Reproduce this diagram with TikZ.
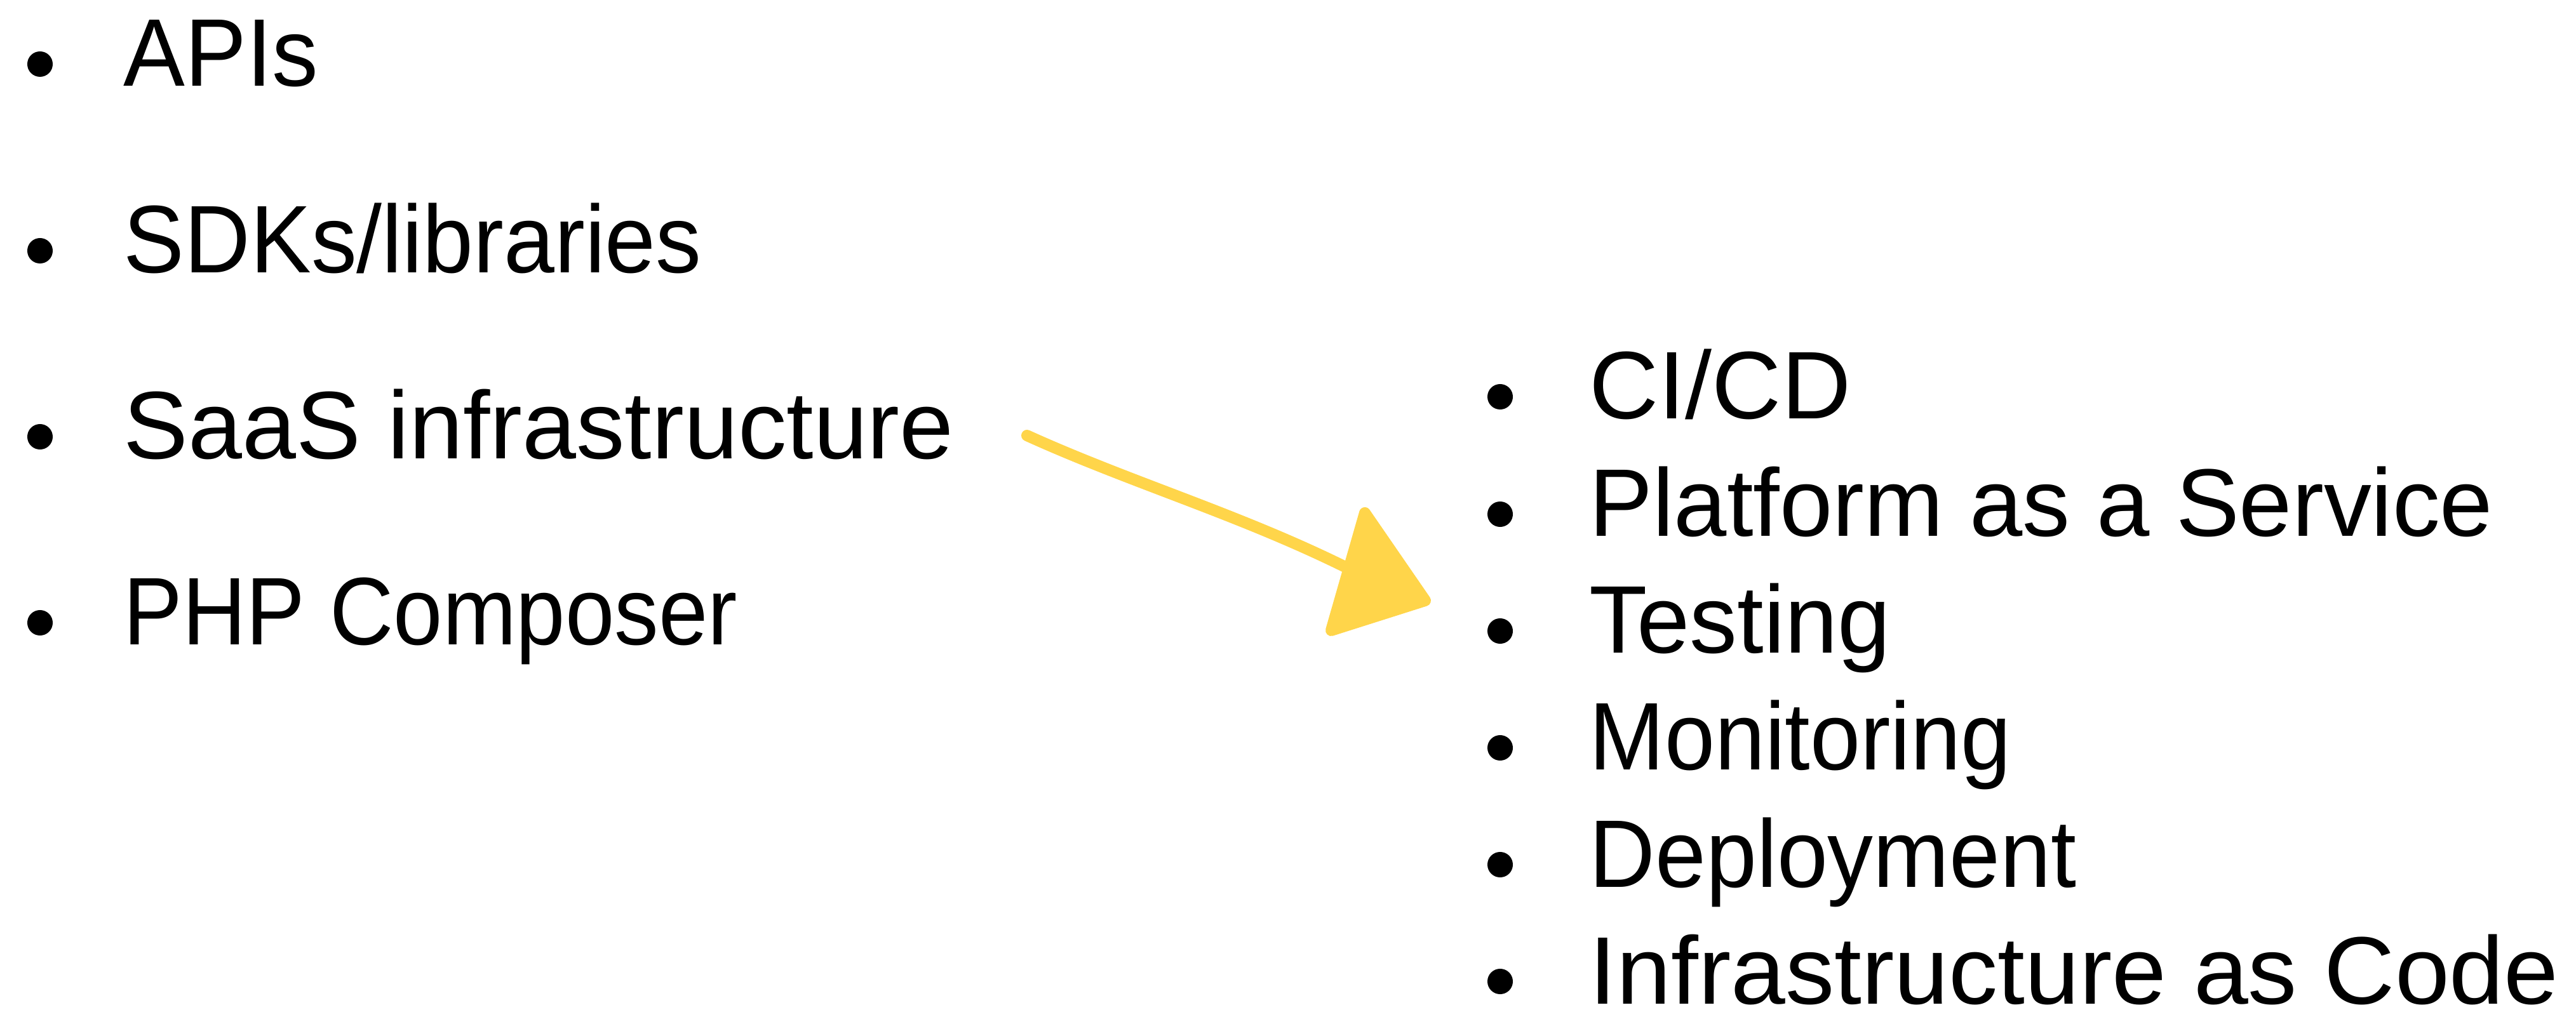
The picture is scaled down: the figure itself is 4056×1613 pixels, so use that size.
\documentclass[tikz,border=0pt]{standalone}
\usepackage{fontspec}
\setmainfont{Liberation Sans}
\begin{document}
\begin{tikzpicture}[x=0.01cm,y=-0.01cm,
  item/.style={anchor=base west,inner sep=0pt,text depth=0pt,font=\fontsize{43}{50}\selectfont},
  dot/.style={circle,fill=black,inner sep=0pt,minimum size=0.40cm},
  marker/.style={draw=arrowyellow,line width=0.18cm,line cap=round,line join=round}]
\definecolor{arrowyellow}{HTML}{FFD54A}
\useasboundingbox (0,0) rectangle (4056,1613);

% left list: name / text / baseline / horizontal squeeze
\foreach \n/\t/\y/\s in {l1/APIs/136/0.96, l2/SDKs\slash libraries/430/0.95,
                        l3/SaaS infrastructure/723/1.01, l4/PHP Composer/1016/0.92}{
  \node[dot] (\n dot) at (63,\y-35) {};
  \node[item] (\n) at (194,\y) {\scalebox{\s}[1]{\t}};
}

% right list
\foreach \n/\t/\y/\s in {r1/CI\slash CD/660/1.0, r2/Platform as a Service/845/0.99,
                        r3/Testing/1029/0.99, r4/Monitoring/1213/0.94,
                        r5/Deployment/1397/0.95, r6/Infrastructure as Code/1581/1.02}{
  \node[dot] (\n dot) at (2362,\y-35) {};
  \node[item] (\n) at (2502,\y) {\scalebox{\s}[1]{\t}};
}

% hand-drawn arrow between the lists
\coordinate (arrowstart) at (1617,686);
\coordinate (arrowend) at (2118,893);
\draw[marker] (arrowstart) .. controls (1780,760) and (1950,810) .. (arrowend);
\filldraw[marker,fill=arrowyellow] (2149,808) -- (2096,993) -- (2244,946) -- cycle;
\end{tikzpicture}
\end{document}
